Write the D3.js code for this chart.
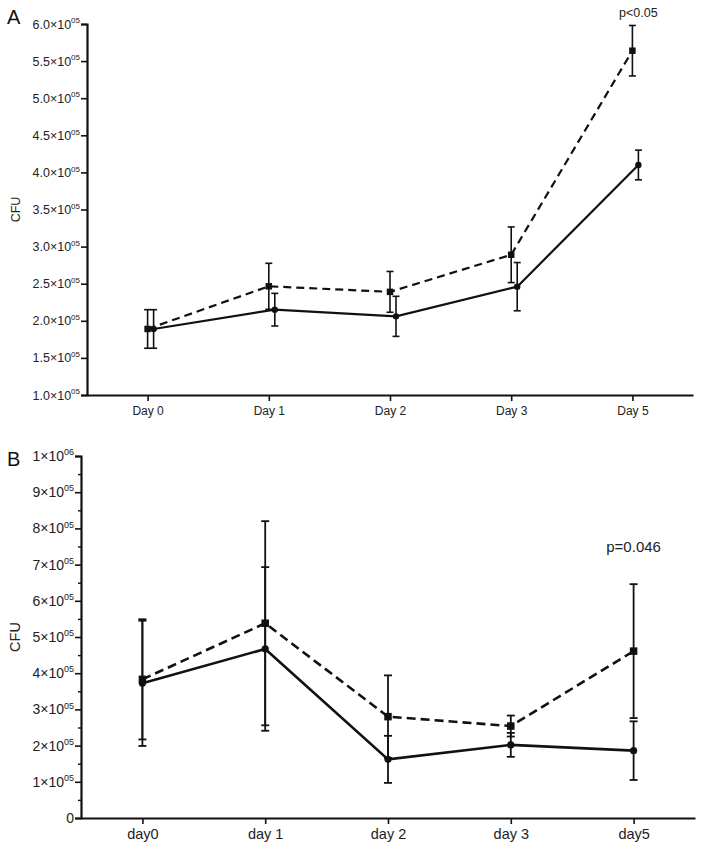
<!DOCTYPE html>
<html>
<head>
<meta charset="utf-8">
<script src="https://cdn.jsdelivr.net/npm/d3@7"></script>
<style>
  html, body { margin: 0; padding: 0; background: #fff; }
  svg { display: block; font-family: "Liberation Sans", Arial, Helvetica, sans-serif; }
</style>
</head>
<body>
<svg id="chart" width="704" height="849"></svg>
<script>
// ---------- Panel A data (CFU, units of 1e5) ----------
const daysA = ["Day 0", "Day 1", "Day 2", "Day 3", "Day 5"];
const aDashedMean = [1.89, 2.465, 2.39, 2.89, 5.64];
const aDashedErr  = [0.26, 0.31, 0.275, 0.375, 0.34];
const aSolidMean  = [1.89, 2.15, 2.06, 2.46, 4.10];
const aSolidErr   = [0.26, 0.22, 0.27, 0.325, 0.20];
const aTickValues = [1.0, 1.5, 2.0, 2.5, 3.0, 3.5, 4.0, 4.5, 5.0, 5.5, 6.0];
const aTickMant   = ["1.0×10", "1.5×10", "2.0×10", "2.5×10", "3.0×10", "3.5×10", "4.0×10", "4.5×10", "5.0×10", "5.5×10", "6.0×10"];
const aTickExp    = ["05", "05", "05", "05", "05", "05", "05", "05", "05", "05", "05"];
const aNote = "p<0.05";

// ---------- Panel B data (CFU, units of 1e5) ----------
const daysB = ["day0", "day 1", "day 2", "day 3", "day5"];
const bDashedMean = [3.83, 5.38, 2.80, 2.54, 4.61];
const bDashedErr  = [1.66, 2.82, 1.14, 0.29, 1.85];
const bSolidMean  = [3.72, 4.67, 1.62, 2.02, 1.86];
const bSolidErr   = [1.73, 2.26, 0.65, 0.33, 0.81];
const bTickValues = [0, 1, 2, 3, 4, 5, 6, 7, 8, 9, 10];
const bTickMant   = ["0", "1×10", "2×10", "3×10", "4×10", "5×10", "6×10", "7×10", "8×10", "9×10", "1×10"];
const bTickExp    = ["", "05", "05", "05", "05", "05", "05", "05", "05", "05", "06"];
const bMinorTicks = [0.5, 1.5, 2.5, 3.5, 4.5, 5.5, 6.5, 7.5, 8.5, 9.5];
const bNote = "p=0.046";

const INK = "#111";
const svg = d3.select("#chart");

function drawPanel(cfg) {
  const g = svg.append("g");
  const x = d3.scalePoint().domain(cfg.days).range(cfg.xRange).padding(0.5);
  const y = d3.scaleLinear().domain(cfg.yDomain).range(cfg.yRange);

  // y axis
  const yAxis = g.append("g")
    .attr("transform", `translate(${cfg.xRange[0]},0)`)
    .call(d3.axisLeft(y).tickValues(cfg.tickValues).tickSize(6).tickPadding(1));
  yAxis.select(".domain").attr("stroke", INK).attr("stroke-width", 2.2);
  yAxis.selectAll(".tick line").attr("stroke", INK).attr("stroke-width", 1.6);
  yAxis.selectAll(".tick text")
    .attr("fill", "#222")
    .attr("font-size", cfg.tickFont)
    .each(function (d, i) {
      const t = d3.select(this);
      t.text(null);
      t.append("tspan").text(cfg.tickMant[i]);
      if (cfg.tickExp[i]) {
        t.append("tspan")
          .attr("font-size", cfg.supFont)
          .attr("dy", -cfg.tickFont * 0.42)
          .text(cfg.tickExp[i]);
      }
    });

  if (cfg.minorTicks) {
    const m = g.append("g")
      .attr("transform", `translate(${cfg.xRange[0]},0)`)
      .call(d3.axisLeft(y).tickValues(cfg.minorTicks).tickSize(3).tickFormat(""));
    m.select(".domain").remove();
    m.selectAll(".tick line").attr("stroke", INK).attr("stroke-width", 1.4);
  }

  // x axis
  const xAxis = g.append("g")
    .attr("transform", `translate(0,${cfg.yRange[0]})`)
    .call(d3.axisBottom(x).tickSize(6).tickPadding(cfg.xPad).tickSizeOuter(0));
  xAxis.select(".domain").attr("stroke", INK).attr("stroke-width", 2.2);
  xAxis.selectAll(".tick line").attr("stroke", INK).attr("stroke-width", 1.6);
  xAxis.selectAll(".tick text").attr("fill", "#222").attr("font-size", cfg.xFont);

  // series
  const series = [
    { mean: cfg.dashedMean, err: cfg.dashedErr, dash: cfg.dash, marker: "square", dx: 0 },
    { mean: cfg.solidMean, err: cfg.solidErr, dash: null, marker: "circle", dx: cfg.dodge }
  ];
  series.forEach(s => {
    const pts = cfg.days.map((d, i) => ({ x: x(d) + s.dx, m: s.mean[i], e: s.err[i] }));
    // error bars
    const eb = g.append("g").attr("stroke", INK).attr("stroke-width", cfg.ebWidth);
    pts.forEach(p => {
      eb.append("line").attr("x1", p.x).attr("x2", p.x).attr("y1", y(p.m - p.e)).attr("y2", y(p.m + p.e));
      eb.append("line").attr("x1", p.x - cfg.cap).attr("x2", p.x + cfg.cap).attr("y1", y(p.m + p.e)).attr("y2", y(p.m + p.e));
      eb.append("line").attr("x1", p.x - cfg.cap).attr("x2", p.x + cfg.cap).attr("y1", y(p.m - p.e)).attr("y2", y(p.m - p.e));
    });
    // line
    g.append("path")
      .datum(pts)
      .attr("fill", "none")
      .attr("stroke", INK)
      .attr("stroke-width", cfg.lineWidth)
      .attr("stroke-dasharray", s.dash)
      .attr("d", d3.line().x(p => p.x).y(p => y(p.m)));
    // markers
    if (s.marker === "square") {
      g.selectAll(null).data(pts).join("rect")
        .attr("x", p => p.x - cfg.sq / 2).attr("y", p => y(p.m) - cfg.sq / 2)
        .attr("width", cfg.sq).attr("height", cfg.sq).attr("fill", INK);
    } else {
      g.selectAll(null).data(pts).join("circle")
        .attr("cx", p => p.x).attr("cy", p => y(p.m)).attr("r", cfg.r).attr("fill", INK);
    }
  });

  // annotation
  g.append("text")
    .attr("x", x(cfg.days[cfg.days.length - 1]) + cfg.noteDx)
    .attr("y", y(cfg.noteY))
    .attr("text-anchor", "middle")
    .attr("font-size", cfg.noteFont)
    .attr("fill", "#222")
    .text(cfg.note);

  // y label
  g.append("text")
    .attr("transform", `translate(${cfg.yLabelX},${(cfg.yRange[0] + cfg.yRange[1]) / 2}) rotate(-90)`)
    .attr("text-anchor", "middle")
    .attr("font-size", cfg.yLabelFont)
    .attr("fill", "#222")
    .text("CFU");

  // panel letter
  g.append("text")
    .attr("x", 7)
    .attr("y", cfg.letterY)
    .attr("font-size", 20)
    .attr("fill", "#111")
    .text(cfg.letter);
}

drawPanel({
  days: daysA, xRange: [87, 693], yDomain: [1, 6], yRange: [395, 24],
  tickValues: aTickValues, tickMant: aTickMant, tickExp: aTickExp,
  tickFont: 12.5, supFont: 8, xFont: 12, xPad: 5,
  dashedMean: aDashedMean, dashedErr: aDashedErr, solidMean: aSolidMean, solidErr: aSolidErr,
  dash: "8,5", dodge: 6, lineWidth: 2.2, ebWidth: 1.6, cap: 3.5, sq: 6.5, r: 3.2,
  note: aNote, noteY: 6.1, noteDx: 6, noteFont: 12.5,
  yLabelX: 20, yLabelFont: 12.5, letter: "A", letterY: 24
});

drawPanel({
  days: daysB, xRange: [81, 695], yDomain: [0, 10], yRange: [818, 456],
  tickValues: bTickValues, tickMant: bTickMant, tickExp: bTickExp, minorTicks: bMinorTicks,
  tickFont: 14, supFont: 9, xFont: 14.5, xPad: 5,
  dashedMean: bDashedMean, dashedErr: bDashedErr, solidMean: bSolidMean, solidErr: bSolidErr,
  dash: "9,5", dodge: 0, lineWidth: 2.6, ebWidth: 1.8, cap: 4, sq: 7.5, r: 3.6,
  note: bNote, noteY: 7.35, noteDx: 0, noteFont: 15,
  yLabelX: 20, yLabelFont: 14.5, letter: "B", letterY: 466
});
</script>
</body>
</html>
